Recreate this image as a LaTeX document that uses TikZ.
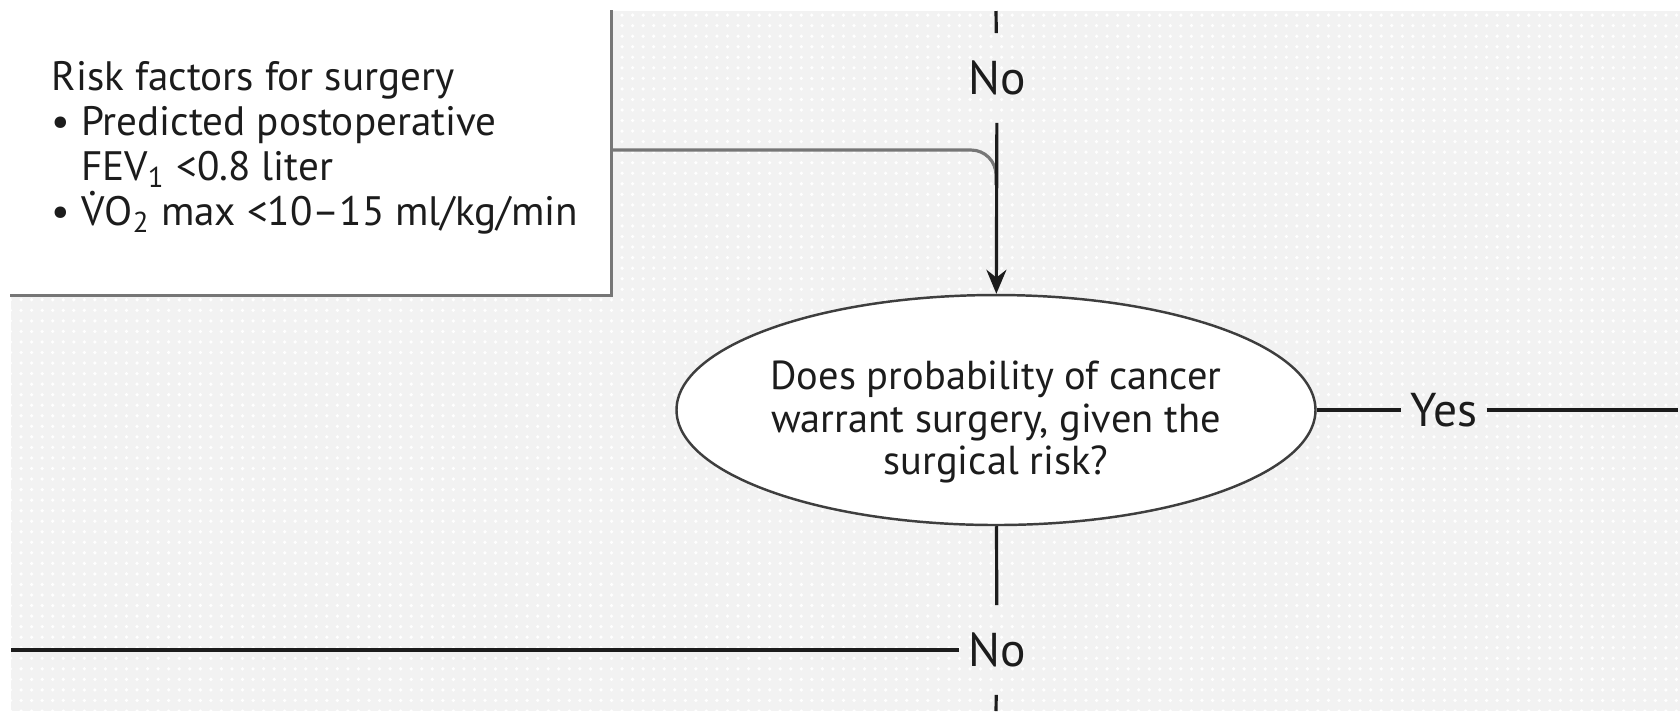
\documentclass[tikz,border=0pt]{standalone}
\usepackage{fontspec}
\setmainfont{PT Sans}
\usetikzlibrary{arrows.meta,positioning,shapes.geometric,patterns}
\definecolor{paper}{RGB}{242,242,242}
\definecolor{rule}{RGB}{118,118,118}
\definecolor{ink}{RGB}{28,28,28}
\newcommand\dotV{\ooalign{V\cr\hidewidth\smash{\raisebox{0.74em}{.}}\hidewidth\cr}}
\tikzset{
    riskbox/.style={
        fill=white,
        inner sep=0pt,
        minimum width=60mm,
        minimum height=28.4mm
    },
    boxtext/.style={
        align=left,
        inner sep=0pt,
        text=ink,
        font=\fontsize{11.7}{12.8}\selectfont
    },
    decision/.style={
        ellipse,
        draw=ink!85,
        fill=white,
        line width=0.7pt,
        minimum width=63.9mm,
        minimum height=23mm,
        inner sep=0pt
    },
    asktext/.style={
        align=center,
        inner sep=0pt,
        text=ink,
        font=\fontsize{11.5}{12}\selectfont
    },
    lbl/.style={
        font=\fontsize{13.5}{13.5}\selectfont,
        text=ink,
        inner xsep=0.9mm,
        inner ysep=2.7mm
    },
    flow/.style={
        draw=ink,
        line width=0.9pt
    },
    arrow/.style={
        flow,
        -{Stealth[length=2.4mm,width=2mm]}
    },
    feed/.style={
        draw=rule,
        line width=0.9pt,
        rounded corners=2.5mm
    }
}

\begin{document}
\begin{tikzpicture}[x=0.1mm, y=-0.1mm]

\useasboundingbox (0,0) rectangle (1680,711);
\fill[paper] (11,11) rectangle (1680,711);
\fill[pattern=dots, pattern color=white] (11,11) rectangle (1680,711);

\node[riskbox] (box) at (311,153) {};
\draw[rule, line width=1pt] (box.north east) -- (box.south east) -- (box.south west);
\node[boxtext, anchor=north west] (factors) at (51,61)
    {Risk factors for surgery\\
     \textbullet\ Predicted postoperative\\
     \hphantom{\textbullet\ }FEV\textsubscript{1} <0.8 liter\\
     \textbullet\ \dotV O\textsubscript{2} max <10--15 ml/kg/min};

\node[decision] (decide) at (996,410) {};
\node[asktext] (question) at ([yshift=-1.2mm]decide.center)
    {Does probability of cancer\\warrant surgery, given the\\surgical risk?};

\node[lbl] (notop) at (997,78) {No};
\node[lbl] (yes) at (1444,410) {Yes};
\node[lbl] (nobottom) at (997,650) {No};

\coordinate (topin) at (996,11);
\coordinate (joint) at (996,185);
\coordinate (yesout) at (1678,410);
\coordinate (noleft) at (11,650);
\coordinate (nodown) at (996,711);

\draw[feed] ([yshift=0.3mm]box.east) -| (joint);
\draw[flow] (topin) -- (notop);
\draw[arrow] (notop) -- (decide);
\draw[flow] (decide) -- (yes);
\draw[flow] (yes) -- (yesout);
\draw[flow] (decide) -- (nobottom);
\draw[flow] (nobottom) -- (noleft);
\draw[flow] (nobottom) -- (nodown);

\end{tikzpicture}
\end{document}
